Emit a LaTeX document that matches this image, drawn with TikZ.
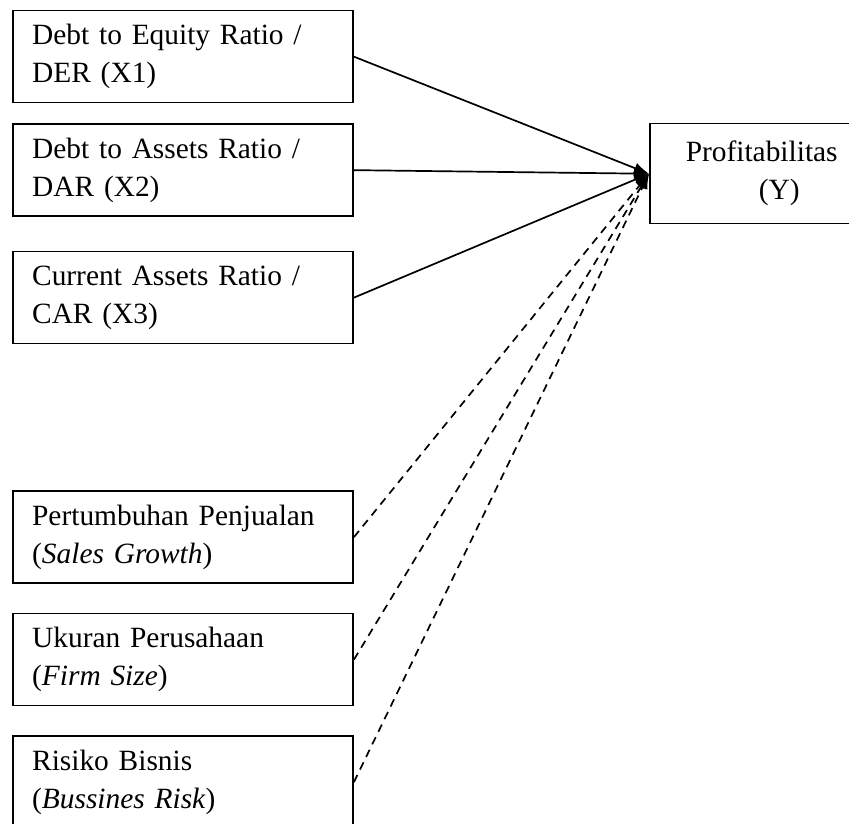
\documentclass[tikz,border=0pt]{standalone}
\usepackage{fontspec}
\setmainfont{Liberation Serif}
\usetikzlibrary{matrix,arrows.meta}

\tikzset{
  var/.style={draw, line width=0.75pt, text width=151pt, inner xsep=9.5pt, inner ysep=0pt,
    minimum height=46pt, align=left, font=\fontsize{14.7pt}{19pt}\selectfont},
  link/.style={line width=0.85pt, -{Latex[length=7.5pt,width=5.5pt]}},
}

\begin{document}
\begin{tikzpicture}[x=0.5pt,y=-0.5pt]
            \useasboundingbox (0,0) rectangle (849,823);
            \clip (0,0) rectangle (849,823);
            \matrix (m) [matrix of nodes, nodes={var}, inner sep=0pt, row sep=0pt, anchor=north west] at (12,9.5) {
                Debt to Equity Ratio /\newline DER (X1) \\[10pt]
                Debt to Assets Ratio /\newline DAR (X2) \\[17pt]
                Current Assets Ratio /\newline CAR (X3) \\[73pt]
                Pertumbuhan Penjualan\newline (\textit{Sales Growth}) \\[14.5pt]
                Ukuran Perusahaan\newline (\textit{Firm Size}) \\[14.5pt]
                Risiko Bisnis\newline (\textit{Bussines Risk}) \\
            };
            \node (y) [var, anchor=north west, text width=79pt, inner xsep=18pt, minimum height=50pt] at (649,123) {Profitabilitas\newline\hspace*{36.5pt}(Y)};
            \foreach \i in {1,2,3}
                \draw[link] (m-\i-1.east) -- (y.west);
            \foreach \i in {4,5,6}
                \draw[link, dash pattern=on 4pt off 3pt] (m-\i-1.east) -- (y.west);
        \end{tikzpicture}
\end{document}
